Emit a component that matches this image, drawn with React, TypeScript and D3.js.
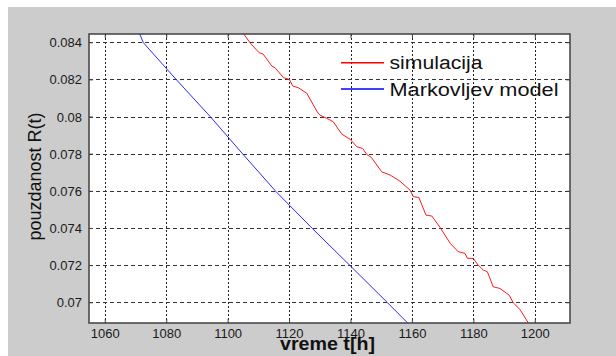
import * as d3 from 'd3';

const W = 616;
const H = 356;
const PLOT = { left: 89, right: 570, top: 34, bottom: 323 };

// x ticks (vreme t[h]) and y ticks (pouzdanost R(t))
const xTicks = [1060, 1080, 1100, 1120, 1140, 1160, 1180, 1200];
const yTicks = [0.084, 0.082, 0.08, 0.078, 0.076, 0.074, 0.072, 0.07];
const xDomain = [1054.7, 1211.3];
const yDomain = [0.06891, 0.08447];

// simulacija (red, stepped)
const simT = [1104.9, 1107.1, 1110.1, 1111.4, 1114.2, 1115.3, 1118.0, 1120.0, 1121.0, 1122.8, 1125.6, 1129.0, 1129.9, 1132.1, 1134.2, 1137.0, 1139.7, 1141.9, 1143.8, 1145.1, 1146.7, 1150.0, 1152.7, 1155.9, 1159.2, 1160.3, 1162.1, 1164.4, 1166.3, 1169.0, 1172.3, 1174.9, 1177.1, 1177.9, 1179.8, 1181.4, 1183.1, 1184.4, 1186.3, 1188.5, 1191.5, 1192.8, 1195.0, 1197.7];
const simR = [0.08452, 0.084, 0.08346, 0.08339, 0.08275, 0.08265, 0.08212, 0.08202, 0.08167, 0.08158, 0.08128, 0.08028, 0.0801, 0.07993, 0.07975, 0.07908, 0.0788, 0.0784, 0.07831, 0.07799, 0.07781, 0.07705, 0.07688, 0.07655, 0.07607, 0.07571, 0.07567, 0.07472, 0.07467, 0.07406, 0.0732, 0.07275, 0.07266, 0.07239, 0.07239, 0.07203, 0.07176, 0.07167, 0.07086, 0.07077, 0.07041, 0.07, 0.06964, 0.06892];

// Markovljev model (blue)
const markT = [1071.1, 1072.4, 1083.2, 1094.3, 1104.8, 1115.5, 1127.4, 1139.7, 1151.9, 1158.4];
const markR = [0.08452, 0.084, 0.082, 0.08, 0.078, 0.076, 0.074, 0.072, 0.07, 0.06892];

const FONT = '"Liberation Sans", Arial, sans-serif';

export default function App() {
  const x = d3.scaleLinear().domain(xDomain).range([PLOT.left, PLOT.right]);
  const y = d3.scaleLinear().domain(yDomain).range([PLOT.bottom, PLOT.top]);

  const line = d3
    .line<[number, number]>()
    .x(d => x(d[0]))
    .y(d => y(d[1]));

  const simPts = simT.map((t, i) => [t, simR[i]] as [number, number]);
  const markPts = markT.map((t, i) => [t, markR[i]] as [number, number]);

  const fmtY = (v: number) => String(+v.toFixed(3));

  return (
    <div style={{ position: 'absolute', left: 0, top: 0 }}>
      <svg width={W} height={H} style={{ display: 'block', fontFamily: FONT }}>
        <rect x={0} y={0} width={W} height={H} fill="#ffffff" />
        <rect x={8} y={7} width={W - 8} height={H - 7} fill="#cccccc" />

        {/* axes background */}
        <rect x={PLOT.left} y={PLOT.top} width={PLOT.right - PLOT.left} height={PLOT.bottom - PLOT.top} fill="#ffffff" />

        <clipPath id="plotclip">
          <rect x={PLOT.left} y={PLOT.top} width={PLOT.right - PLOT.left} height={PLOT.bottom - PLOT.top} />
        </clipPath>

        {/* grid */}
        {xTicks.map(t => (
          <line key={'gx' + t} x1={x(t)} x2={x(t)} y1={PLOT.top} y2={PLOT.bottom}
            stroke="#222" strokeWidth={1} strokeDasharray="2,2" shapeRendering="crispEdges" />
        ))}
        {yTicks.map(t => (
          <line key={'gy' + t} x1={PLOT.left} x2={PLOT.right} y1={y(t)} y2={y(t)}
            stroke="#333" strokeWidth={1} strokeDasharray="4,3" shapeRendering="crispEdges" />
        ))}

        {/* data */}
        <g clipPath="url(#plotclip)">
          <path d={line(markPts) ?? ''} fill="none" stroke="#2a2aff" strokeWidth={1} />
          <path d={line(simPts) ?? ''} fill="none" stroke="#ff1a1a" strokeWidth={1} />
        </g>

        {/* inward ticks */}
        {xTicks.map(t => (
          <g key={'tx' + t}>
            <line x1={x(t)} x2={x(t)} y1={PLOT.bottom} y2={PLOT.bottom - 4} stroke="#404040" />
            <line x1={x(t)} x2={x(t)} y1={PLOT.top} y2={PLOT.top + 4} stroke="#404040" />
          </g>
        ))}
        {yTicks.map(t => (
          <g key={'ty' + t}>
            <line x1={PLOT.left} x2={PLOT.left + 4} y1={y(t)} y2={y(t)} stroke="#404040" />
            <line x1={PLOT.right} x2={PLOT.right - 4} y1={y(t)} y2={y(t)} stroke="#404040" />
          </g>
        ))}

        {/* box */}
        <rect x={PLOT.left} y={PLOT.top} width={PLOT.right - PLOT.left} height={PLOT.bottom - PLOT.top}
          fill="none" stroke="#404040" strokeWidth={1.5} />

        {/* tick labels */}
        {xTicks.map(t => (
          <text key={'lx' + t} x={x(t)} y={337.5} textAnchor="middle" fontSize={13} fill="#1a1a1a">
            {t}
          </text>
        ))}
        {yTicks.map(t => (
          <text key={'ly' + t} x={82} y={y(t) + 4.6} textAnchor="end" fontSize={13} fill="#1a1a1a">
            {fmtY(t)}
          </text>
        ))}

        {/* axis labels */}
        <text x={280} y={350} fontSize={18} fontWeight="bold" fill="#111"
          textLength={95} lengthAdjust="spacingAndGlyphs">
          vreme t[h]
        </text>
        <text transform={`translate(41, 176.5) rotate(-90)`} textAnchor="middle" fontSize={18} fill="#111">
          pouzdanost R(t)
        </text>

        {/* legend */}
        <line x1={341} x2={384} y1={62.7} y2={62.7} stroke="#ff0000" strokeWidth={1.6} />
        <text x={389.5} y={68.5} fontSize={18} fill="#111" textLength={93} lengthAdjust="spacingAndGlyphs">
          simulacija
        </text>
        <line x1={341} x2={384} y1={89} y2={89} stroke="#0000ff" strokeWidth={1.6} />
        <text x={389.5} y={95.7} fontSize={18} fill="#111" textLength={169} lengthAdjust="spacingAndGlyphs">
          Markovljev model
        </text>
      </svg>
    </div>
  );
}
